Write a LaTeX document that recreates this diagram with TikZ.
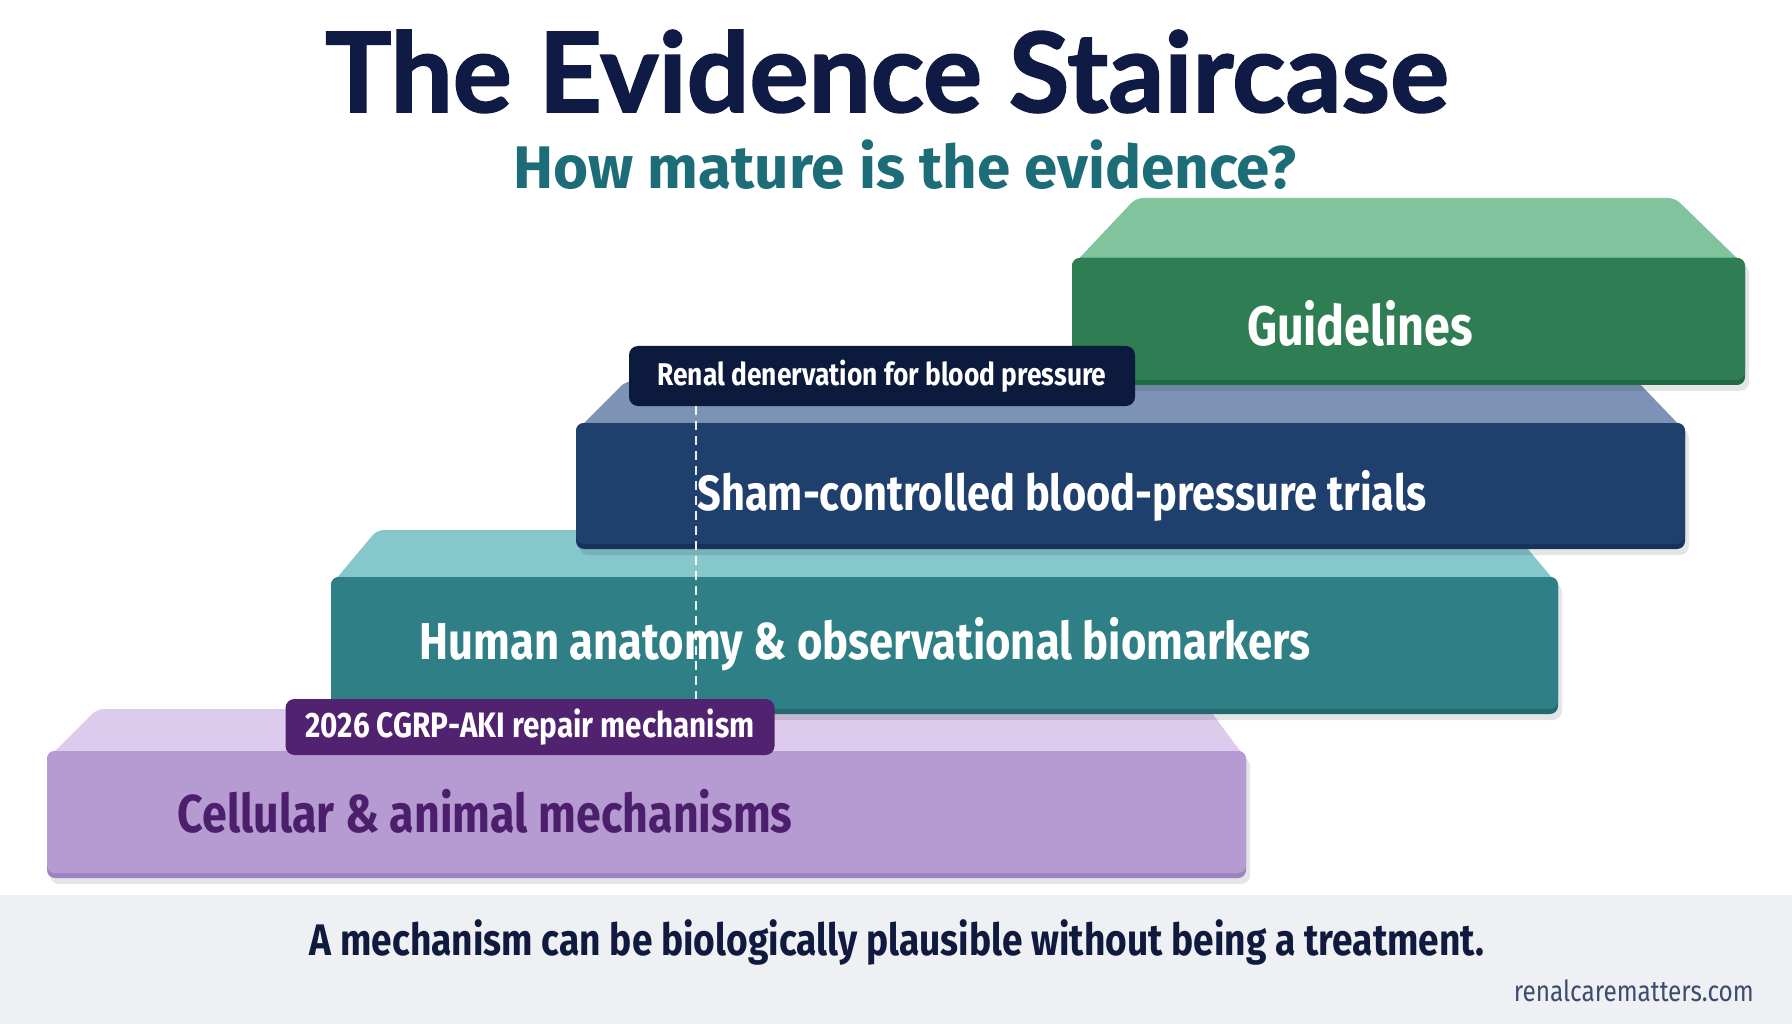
\documentclass[tikz,border=0pt]{standalone}
\usepackage{fontspec}
\usetikzlibrary{calc}
\setmainfont{Fira Sans}
\newfontfamily\titlefont[FakeBold=1.6]{Lato}
\newfontfamily\condfont[FakeStretch=0.84]{Fira Sans}
\definecolor{titlecol}{HTML}{0F1B44}
\definecolor{subcol}{HTML}{1D6D78}
\definecolor{greenfront}{HTML}{2F7D52}
\definecolor{greentop}{HTML}{80C39D}
\definecolor{greenrim}{HTML}{226B42}
\definecolor{bluefront}{HTML}{1F3F6C}
\definecolor{bluetop}{HTML}{7D93B6}
\definecolor{bluerim}{HTML}{16325A}
\definecolor{tealfront}{HTML}{2F7F86}
\definecolor{tealtop}{HTML}{86C7CC}
\definecolor{tealrim}{HTML}{24696F}
\definecolor{purpfront}{HTML}{B69BD3}
\definecolor{purptop}{HTML}{DCCBEC}
\definecolor{purprim}{HTML}{9F82C2}
\definecolor{navylabel}{HTML}{0B1A3D}
\definecolor{purplabel}{HTML}{50226F}
\definecolor{celltext}{HTML}{4B1F6C}
\definecolor{footerbg}{HTML}{EEF0F4}
\definecolor{footertext}{HTML}{0F1A3E}
\definecolor{webcol}{HTML}{3D4B6D}
% block: #1 xl, #2 xr, #3 ytop(front), #4 ybot, #5 yback, #6 xbl, #7 xbr, #8 top col, #9 front col, rim via \rimcol
\newcommand{\stairblock}[9]{%
  \fill[black,opacity=0.10,rounded corners=9pt] (#1+3,#3+6) rectangle (#2+4,#4+6);
  \fill[#8,rounded corners=7pt] (#1,#3+8) -- (#6,#5) -- (#7,#5) -- (#2,#3+8) -- cycle;
  \fill[\rimcol,rounded corners=8pt] (#1,#3) rectangle (#2,#4);
  \fill[#9,rounded corners=8pt] (#1,#3) rectangle (#2,#4-5);
}
\tikzset{
  blocktext/.style={inner sep=0pt, text=white},
  tagbox/.style={rounded corners=9pt, inner sep=0pt, text=white},
  dashline/.style={white, opacity=0.9, line width=1.6pt, dash pattern=on 9pt off 6pt}
}
\begin{document}
\begin{tikzpicture}[x=1pt,y=-1pt]
\useasboundingbox (0,0) rectangle (1792,1024);
\fill[white] (0,0) rectangle (1792,1024);
\fill[footerbg] (0,895) rectangle (1792,1024);

% title
\node[anchor=base, inner sep=0pt, text=titlecol] (title) at (887,112)
  {\resizebox{1123pt}{!}{\titlefont\bfseries The Evidence Staircase}};
\node[anchor=base, inner sep=0pt, text=subcol] (subtitle) at (905,189)
  {\resizebox{783pt}{!}{\bfseries How mature is the evidence?}};

% blocks (back to front in drawing order)
\def\rimcol{purprim}
\stairblock{47}{1246}{751}{878}{709}{97}{1209}{purptop}{purpfront}
\def\rimcol{tealrim}
\stairblock{331}{1558}{577}{714}{530}{377}{1512}{tealtop}{tealfront}
\def\rimcol{bluerim}
\stairblock{576}{1685}{423}{549}{381}{626}{1637}{bluetop}{bluefront}
\def\rimcol{greenrim}
\stairblock{1072}{1745}{258}{385}{198}{1136}{1675}{greentop}{greenfront}

% block texts
\node[blocktext, anchor=base] (guide) at (1360,345)
  {\resizebox{226pt}{!}{\condfont\bfseries Guidelines}};
\node[blocktext, anchor=base] (sham) at (1062,510)
  {\resizebox{729pt}{!}{\condfont\bfseries Sham-controlled blood-pressure trials}};
\node[blocktext, anchor=base] (human) at (865,659)
  {\resizebox{890pt}{!}{\condfont\bfseries Human anatomy \& observational biomarkers}};
\node[blocktext, anchor=base, text=celltext] (cell) at (485,832)
  {\resizebox{615pt}{!}{\condfont\bfseries Cellular \& animal mechanisms}};

% tags
\node[tagbox, fill=navylabel, minimum width=506pt, minimum height=60pt] (renal) at (882,376)
  {\resizebox{449pt}{!}{\condfont\bfseries Renal denervation for blood pressure}};
\node[tagbox, fill=purplabel, minimum width=489pt, minimum height=56pt] (cgrp) at (530,727)
  {\resizebox{449pt}{!}{\condfont\bfseries 2026 CGRP-AKI repair mechanism}};

% dashed connector
\coordinate (dtop) at ($(renal.south west)+(67,0)$);
\coordinate (dbot) at (dtop |- cgrp.north);
\draw[dashline] (dtop) -- (dbot);

% footer
\node[anchor=base, inner sep=0pt, text=footertext] (foot) at (897,955)
  {\resizebox{1174pt}{!}{\condfont\bfseries A mechanism can be biologically plausible without being a treatment.}};
\node[anchor=base east, inner sep=0pt, text=webcol] (web) at (1754,1001)
  {\resizebox{240pt}{!}{\condfont renalcarematters.com}};
\end{tikzpicture}
\end{document}
